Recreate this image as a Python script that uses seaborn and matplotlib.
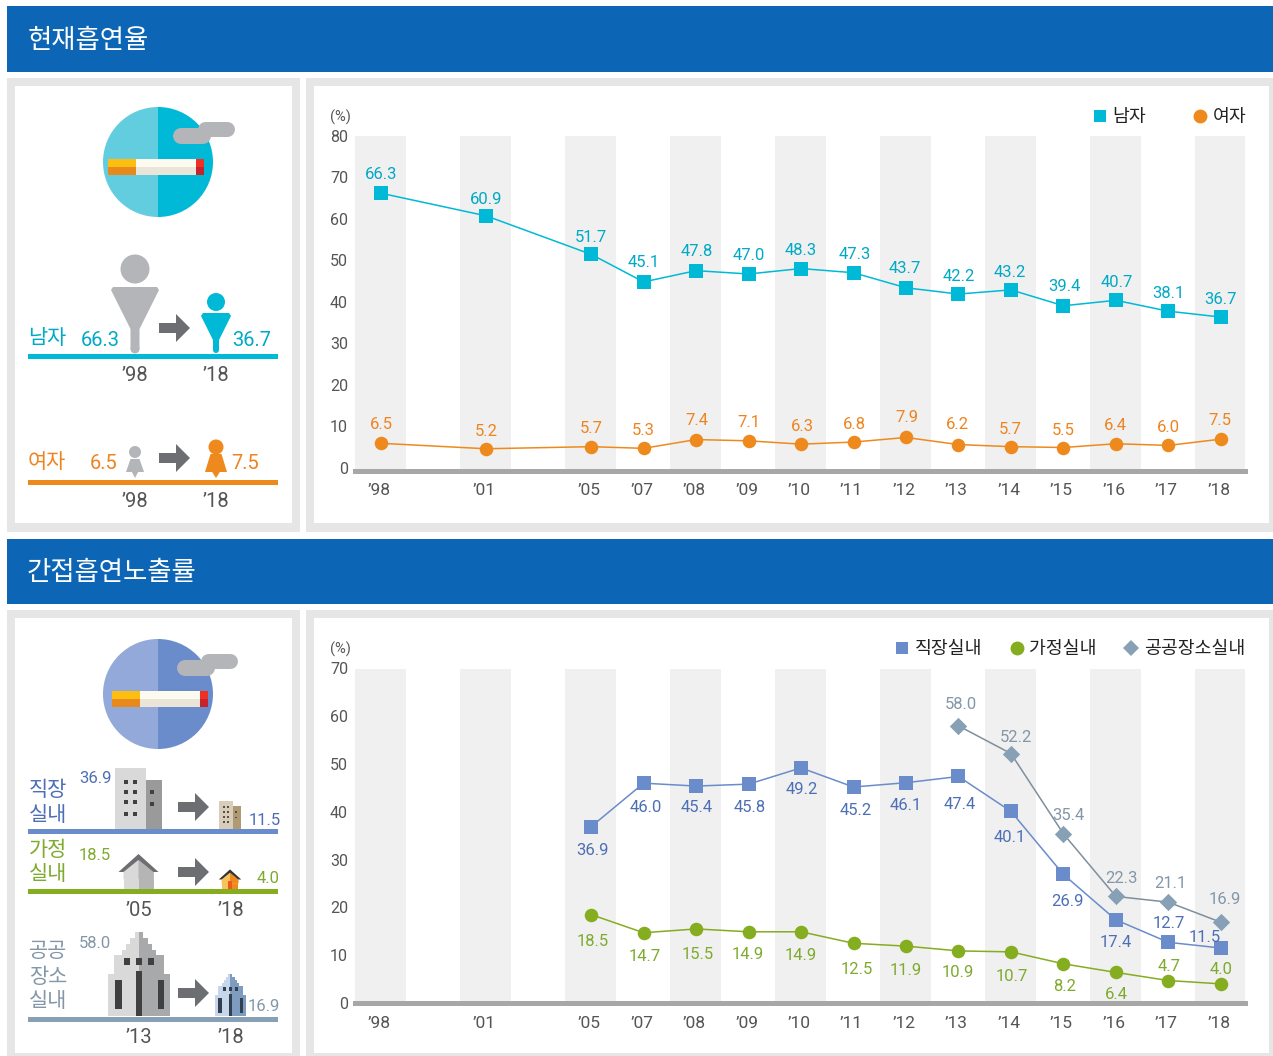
import pandas as pd
import seaborn as sns
import matplotlib.pyplot as plt
from matplotlib.patches import Circle, Wedge, Rectangle, Polygon
from matplotlib.transforms import ScaledTranslation

axis_years = ["'98", None, "'01", None, "'05", "'07", "'08", "'09", "'10", "'11", "'12", "'13", "'14", "'15", "'16", "'17", "'18"]

smoke_years = ["'98", "'01", "'05", "'07", "'08", "'09", "'10", "'11", "'12", "'13", "'14", "'15", "'16", "'17", "'18"]
male = [66.3, 60.9, 51.7, 45.1, 47.8, 47.0, 48.3, 47.3, 43.7, 42.2, 43.2, 39.4, 40.7, 38.1, 36.7]
female = [6.5, 5.2, 5.7, 5.3, 7.4, 7.1, 6.3, 6.8, 7.9, 6.2, 5.7, 5.5, 6.4, 6.0, 7.5]

work_years = ["'05", "'07", "'08", "'09", "'10", "'11", "'12", "'13", "'14", "'15", "'16", "'17", "'18"]
work = [36.9, 46.0, 45.4, 45.8, 49.2, 45.2, 46.1, 47.4, 40.1, 26.9, 17.4, 12.7, 11.5]
home = [18.5, 14.7, 15.5, 14.9, 14.9, 12.5, 11.9, 10.9, 10.7, 8.2, 6.4, 4.7, 4.0]
public_years = ["'13", "'14", "'15", "'16", "'17", "'18"]
public = [58.0, 52.2, 35.4, 22.3, 21.1, 16.9]

# label offsets in pixels from the mark
male_off = [(0, 21), (0, 18), (0, 19), (0, 21), (1, 21), (0, 20), (0, 20), (1, 20), (-1, 21), (0, 20), (-1, 19), (1, 21), (1, 20), (0, 20), (0, 20)]
female_off = [(0, 21), (0, 19), (0, 20), (0, 20), (1, 21), (0, 20), (1, 20), (1, 20), (1, 22), (-1, 22), (-1, 19), (0, 19), (-1, 20), (0, 20), (-1, 21)]
work_off = [(1, -22), (2, -22), (1, -19), (1, -21), (1, -20), (2, -21), (0, -21), (1, -26), (-1, -24), (4, -25), (0, -21), (0, 21), (-16, 13)]
home_off = [(2, -25), (1, -22), (2, -24), (-1, -21), (0, -22), (3, -24), (0, -22), (-1, -20), (1, -23), (1, -21), (0, -20), (1, 16), (0, 16)]
public_off = [(2, 23), (5, 18), (5, 20), (6, 20), (2, 21), (4, 25)]

CYAN, ORANGE = '#00b9d6', '#ee8a1d'
BLUE, GREEN, SLATE = '#6a8ccb', '#84ad1f', '#87a0b5'
CYAN_T, ORANGE_T = '#00a9c6', '#ee8420'
BLUE_T, GREEN_T, SLATE_T = '#4d6fb5', '#7eab2d', '#8497a8'
GREY_T = '#555555'
ARROW = '#6d6e71'

sns.set_theme(style='white')
plt.rcParams['font.family'] = ['Roboto', 'Noto Sans CJK KR', 'DejaVu Sans']

W, H = 1273, 1056
fig = plt.figure(figsize=(W / 100, H / 100), dpi=100, facecolor='white')

# page layer in pixel coordinates
bg = fig.add_axes([0, 0, 1, 1], zorder=0)
bg.set_xlim(0, W)
bg.set_ylim(H, 0)
bg.axis('off')


def rect(x0, y0, x1, y1, color, z=1):
    bg.add_patch(Rectangle((x0, y0), x1 - x0, y1 - y0, fc=color, ec='none', zorder=z))


def poly(pts, color, z=3):
    bg.add_patch(Polygon(pts, closed=True, fc=color, ec='none', zorder=z))


def txt(x, y, s, color, size=14, **kw):
    bg.text(x, y + 1.5, s, color=color, fontsize=size, ha='center', va='center', **kw)


def pill(x0, y0, x1, y1, color):
    r = (y1 - y0) / 2
    bg.plot([x0 + r, x1 - r], [y0 + r, y0 + r], color=color, lw=(y1 - y0) * 0.72, solid_capstyle='round', zorder=5)


def cig_icon(cy, cx, left, right, dx):
    bg.add_patch(Wedge((cx, cy), 55, 90, 270, fc=left, ec='none', zorder=3))
    bg.add_patch(Wedge((cx, cy), 55, 270, 90, fc=right, ec='none', zorder=3))
    top = cy - 3
    mid = cy + 5
    bot = cy + 13
    x = 108 + dx
    rect(x, top, x + 28, mid, '#fdbe12', 4)
    rect(x, mid, x + 28, bot, '#e8891c', 4)
    rect(x + 28, top, x + 88, mid, '#fdfaf0', 4)
    rect(x + 28, mid, x + 88, bot, '#ebe5d8', 4)
    rect(x + 88, top, x + 96, mid, '#ee3124', 4)
    rect(x + 88, mid, x + 96, bot, '#c4242a', 4)
    pill(173 + dx, cy - 34, 211 + dx, cy - 18, '#b4b5b8')
    pill(197 + dx, cy - 41, 234 + dx, cy - 26, '#b4b5b8')


def arrow(x, yc):
    poly([(x, yc - 5), (x + 17, yc - 5), (x + 17, yc - 14), (x + 31, yc), (x + 17, yc + 14), (x + 17, yc + 5), (x, yc + 5)], ARROW)


def man(cx, head_y, r, top, w, neck_y, nw, bot, color):
    bg.add_patch(Circle((cx, head_y), r, fc=color, ec='none', zorder=3))
    poly([(cx - w + 2, top), (cx + w - 2, top), (cx + w, top + 3), (cx + nw, neck_y), (cx + nw, bot), (cx - nw, bot), (cx - nw, neck_y), (cx - w, top + 3)], color)
    bg.add_patch(Circle((cx, bot), nw, fc=color, ec='none', zorder=3))


def woman(cx, head_y, r, top, w, bot, color):
    bg.add_patch(Circle((cx, head_y), r, fc=color, ec='none', zorder=3))
    poly([(cx - w * 0.5, top), (cx + w * 0.5, top), (cx + w, bot - 6), (cx + w * 0.35, bot - 6), (cx, bot), (cx - w * 0.35, bot - 6), (cx - w, bot - 6)], color)


def office(x0, y1, s, light, dark, win):
    rect(x0 + 2 * s, y1 - 61 * s, x0 + 33 * s, y1, light, 3)
    rect(x0 + 33 * s, y1 - 49 * s, x0 + 49 * s, y1, dark, 3)
    for wy in [49, 39, 29, 17]:
        for wx in [11, 20]:
            rect(x0 + wx * s, y1 - wy * s, x0 + (wx + 4) * s, y1 - (wy - 4) * s, win, 4)
    for wy in [39, 27]:
        rect(x0 + 37 * s, y1 - wy * s, x0 + 41 * s, y1 - (wy - 4) * s, win, 4)


def house(cx, y1, s, left, right, roof, door=None):
    rect(cx - 15 * s, y1 - 21 * s, cx, y1, left, 3)
    rect(cx, y1 - 21 * s, cx + 15 * s, y1, right, 3)
    poly([(cx, y1 - 35 * s), (cx + 20 * s, y1 - 17 * s), (cx + 15 * s, y1 - 17 * s), (cx, y1 - 29 * s), (cx - 15 * s, y1 - 17 * s), (cx - 20 * s, y1 - 17 * s)], roof, 4)
    poly([(cx, y1 - 29 * s), (cx + 15 * s, y1 - 17 * s), (cx + 15 * s, y1 - 10 * s), (cx - 15 * s, y1 - 10 * s), (cx - 15 * s, y1 - 17 * s)], left, 3)
    poly([(cx, y1 - 29 * s), (cx + 15 * s, y1 - 17 * s), (cx + 15 * s, y1 - 10 * s), (cx, y1 - 10 * s)], right, 3)
    if door:
        rect(cx - 3 * s, y1 - 14 * s, cx + 3 * s, y1, door, 4)


def tower(cx, y1, s, light, dark, win):
    steps = [(84, 4), (78, 9), (72, 13), (66, 17), (61, 25), (42, 31)]
    for h, hw in steps:
        rect(cx - hw * s, y1 - h * s, cx, y1, light, 3)
        rect(cx, y1 - h * s, cx + hw * s, y1, dark, 3)
    for wx in [-12, 0, 12]:
        rect(cx + (wx - 3) * s, y1 - 58 * s, cx + (wx + 3) * s, y1 - 51 * s, win, 4)
    rect(cx - 24 * s, y1 - 36 * s, cx - 17 * s, y1 - 7 * s, win, 4)
    rect(cx - 3 * s, y1 - 45 * s, cx + 3 * s, y1, win, 4)
    rect(cx + 19 * s, y1 - 36 * s, cx + 25 * s, y1 - 7 * s, win, 4)


# banners and panels
for top, bot, gtop, gbot, ibot, title, tw in [(6, 72, 78, 532, 523, '현재흡연율', 88),
                                              (539, 604, 610, H, 1053, '간접흡연노출률', 111)]:
    rect(7, top, W, bot, '#0d66b5')
    txt(tw, (top + bot) / 2, title, 'white', 19)
    rect(7, gtop, 300, gbot, '#e6e6e6')
    rect(306, gtop, W, gbot, '#e6e6e6')
    rect(15, gtop + 8, 292, ibot, 'white', 2)
    rect(314, gtop + 8, 1269, ibot, 'white', 2)

# left column, current smoking
cig_icon(162, 158, '#63cde0', CYAN, 0)
man(135, 269, 14.5, 287, 24, 329, 4.5, 349, '#b4b5b8')
man(216, 302, 9, 313, 15, 340, 3, 350, CYAN)
arrow(159, 328)
rect(28, 354, 278, 358.5, CYAN, 2)
txt(47, 337, '남자', CYAN_T, 15)
txt(100, 339, '66.3', CYAN_T, 14.5)
txt(252, 339, '36.7', CYAN_T, 14.5)
txt(135, 374, "’98", GREY_T, 14.5)
txt(216, 374, "’18", GREY_T, 14.5)

woman(135, 452, 6, 459, 9, 478, '#b4b5b8')
woman(216, 447, 7.5, 454, 11, 478, ORANGE)
arrow(159, 458)
rect(28, 480, 278, 484.5, ORANGE, 2)
txt(47, 461, '여자', ORANGE_T, 15)
txt(104, 462, '6.5', ORANGE_T, 14.5)
txt(245, 462, '7.5', ORANGE_T, 14.5)
txt(135, 500, "’98", GREY_T, 14.5)
txt(216, 500, "’18", GREY_T, 14.5)

# left column, second-hand smoke
cig_icon(694, 158, '#92a9da', BLUE, 3.5)
txt(48, 789, '직장', BLUE_T, 15)
txt(48, 814, '실내', BLUE_T, 15)
txt(95, 777, '36.9', BLUE_T, 12)
office(113, 829, 1.0, '#d9d9d9', '#9a9a9a', '#404040')
arrow(178, 807)
office(218, 829, 0.46, '#d8cdbb', '#b09a74', '#5a5040')
txt(265, 819, '11.5', BLUE_T, 12)
rect(28, 829, 278, 833.5, BLUE, 2)

txt(48, 849, '가정', GREEN_T, 15)
txt(48, 873, '실내', GREEN_T, 15)
txt(95, 854, '18.5', GREEN_T, 12)
house(138.5, 889, 1.0, '#d9d9d9', '#b5b5b5', ARROW)
arrow(178, 872)
house(230, 889, 0.56, '#f9c35c', '#f08a1d', '#333333', '#ee5a1d')
txt(268, 877, '4.0', GREEN_T, 12)
rect(28, 889, 278, 894, GREEN, 2)
txt(139, 909, "’05", GREY_T, 14.5)
txt(231, 909, "’18", GREY_T, 14.5)

txt(48, 950, '공공', SLATE_T, 15)
txt(48, 976, '장소', SLATE_T, 15)
txt(48, 1000, '실내', SLATE_T, 15)
txt(95, 942, '58.0', SLATE_T, 12)
tower(138.5, 1016, 1.0, '#d9d9d9', '#a8a9ab', '#404040')
arrow(178, 993)
tower(230, 1016, 0.5, '#c7d6ea', '#7d9cc0', '#33404f')
txt(264, 1005, '16.9', SLATE_T, 12)
rect(28, 1017, 278, 1021.5, SLATE, 2)
txt(139, 1036, "’13", GREY_T, 14.5)
txt(231, 1036, "’18", GREY_T, 14.5)


def chart(top_px, bot_px, ymax, series, legend_anchor, unit_y, colspace, tick_shift):
    ax = fig.add_axes([355 / W, 1 - bot_px / H, 890 / W, (bot_px - top_px) / H], zorder=2)
    ax.patch.set_alpha(0)
    frames = []
    for name, years, vals, *_ in series:
        frames.append(pd.DataFrame({'slot': [axis_years.index(y) for y in years], 'value': vals, 'series': name}))
    df = pd.concat(frames)
    names = [s[0] for s in series]
    sns.lineplot(data=df, x='slot', y='value', hue='series', style='series', hue_order=names, style_order=names,
                 palette={s[0]: s[3] for s in series}, markers={s[0]: s[4] for s in series},
                 dashes=False, markersize=1, linewidth=1.1, ax=ax, zorder=3)
    # bigger marks on top of the lines, one size per shape
    for s in series:
        sub = df[df['series'] == s[0]]
        ax.scatter(sub['slot'], sub['value'], marker=s[4], s=s[6], color=s[7], linewidths=0, zorder=4, clip_on=False)
        for x, v, off in zip(sub['slot'], sub['value'], s[5]):
            ax.annotate('%.1f' % v, (x, v), xytext=(off[0], off[1] - 2), textcoords='offset pixels', ha='center', va='center',
                        color=s[8], fontsize=12, zorder=6, annotation_clip=False)
    for slot in range(0, len(axis_years), 2):
        ax.axvspan(slot - 0.5, slot + 0.48, color='#f0f0f0', lw=0, zorder=0)
    ax.set_xlim(-0.5, 16.46)
    ax.set_ylim(0, ymax)
    ax.set_xticks([i for i, y in enumerate(axis_years) if y])
    ax.set_xticklabels([y.replace("'", '’') for y in axis_years if y], color=GREY_T, fontsize=12.5)
    ax.set_yticks(range(0, ymax + 1, 10))
    ax.tick_params(axis='y', length=0, pad=5, labelsize=11.5, labelcolor=GREY_T)
    ax.tick_params(axis='x', length=0, pad=9)
    ax.set_xlabel('')
    ax.set_ylabel('')
    for lab in ax.get_xticklabels():
        lab.set_transform(lab.get_transform() + ScaledTranslation(-2 * 0.72 / 72, 0, fig.dpi_scale_trans))
    for lab, v in zip(ax.get_yticklabels(), range(0, ymax + 1, 10)):
        up = tick_shift * (1 - v / ymax) * 0.72 / 72
        lab.set_transform(lab.get_transform() + ScaledTranslation(0, up, fig.dpi_scale_trans))
    for side in ['top', 'left', 'right']:
        ax.spines[side].set_visible(False)
    ax.spines['bottom'].set_color('#a7a7a7')
    ax.spines['bottom'].set_linewidth(3.6)
    ax.spines['bottom'].set_zorder(5)
    handles, labels = ax.get_legend_handles_labels()
    for h, s in zip(handles, series):
        h.set_linestyle('none')
        h.set_marker(s[4])
        h.set_markersize(s[9])
        h.set_markerfacecolor(s[7])
        h.set_markeredgewidth(0)
    leg = ax.legend(handles, labels, loc='center right', bbox_to_anchor=legend_anchor, bbox_transform=fig.transFigure,
                    ncol=len(series), frameon=False, fontsize=13.2, handlelength=1, handletextpad=0.2, columnspacing=colspace,
                    borderaxespad=0, borderpad=0)
    for t in leg.get_texts():
        t.set_color('#222222')
    bg.text(340, unit_y, '(%)', color=GREY_T, fontsize=10.5, ha='center', va='center')
    return ax


chart(136, 470.5, 80,
      [('남자', smoke_years, male, CYAN, 's', male_off, 95, CYAN, CYAN_T, 9.3),
       ('여자', smoke_years, female, ORANGE, 'o', female_off, 95, ORANGE, ORANGE_T, 10)],
      (1247 / W, 1 - 117 / H), 117, 2.45, 3)
chart(668.5, 1003, 70,
      [('직장실내', work_years, work, BLUE, 's', work_off, 95, BLUE, BLUE_T, 9.3),
       ('가정실내', work_years, home, GREEN, 'o', home_off, 95, GREEN, GREEN_T, 10),
       ('공공장소실내', public_years, public, '#7f8f9c', 'D', public_off, 78, SLATE, SLATE_T, 8.2)],
      (1245 / W, 1 - 649 / H), 649, 1.35, 0)

plt.savefig('out.png', dpi=100)
